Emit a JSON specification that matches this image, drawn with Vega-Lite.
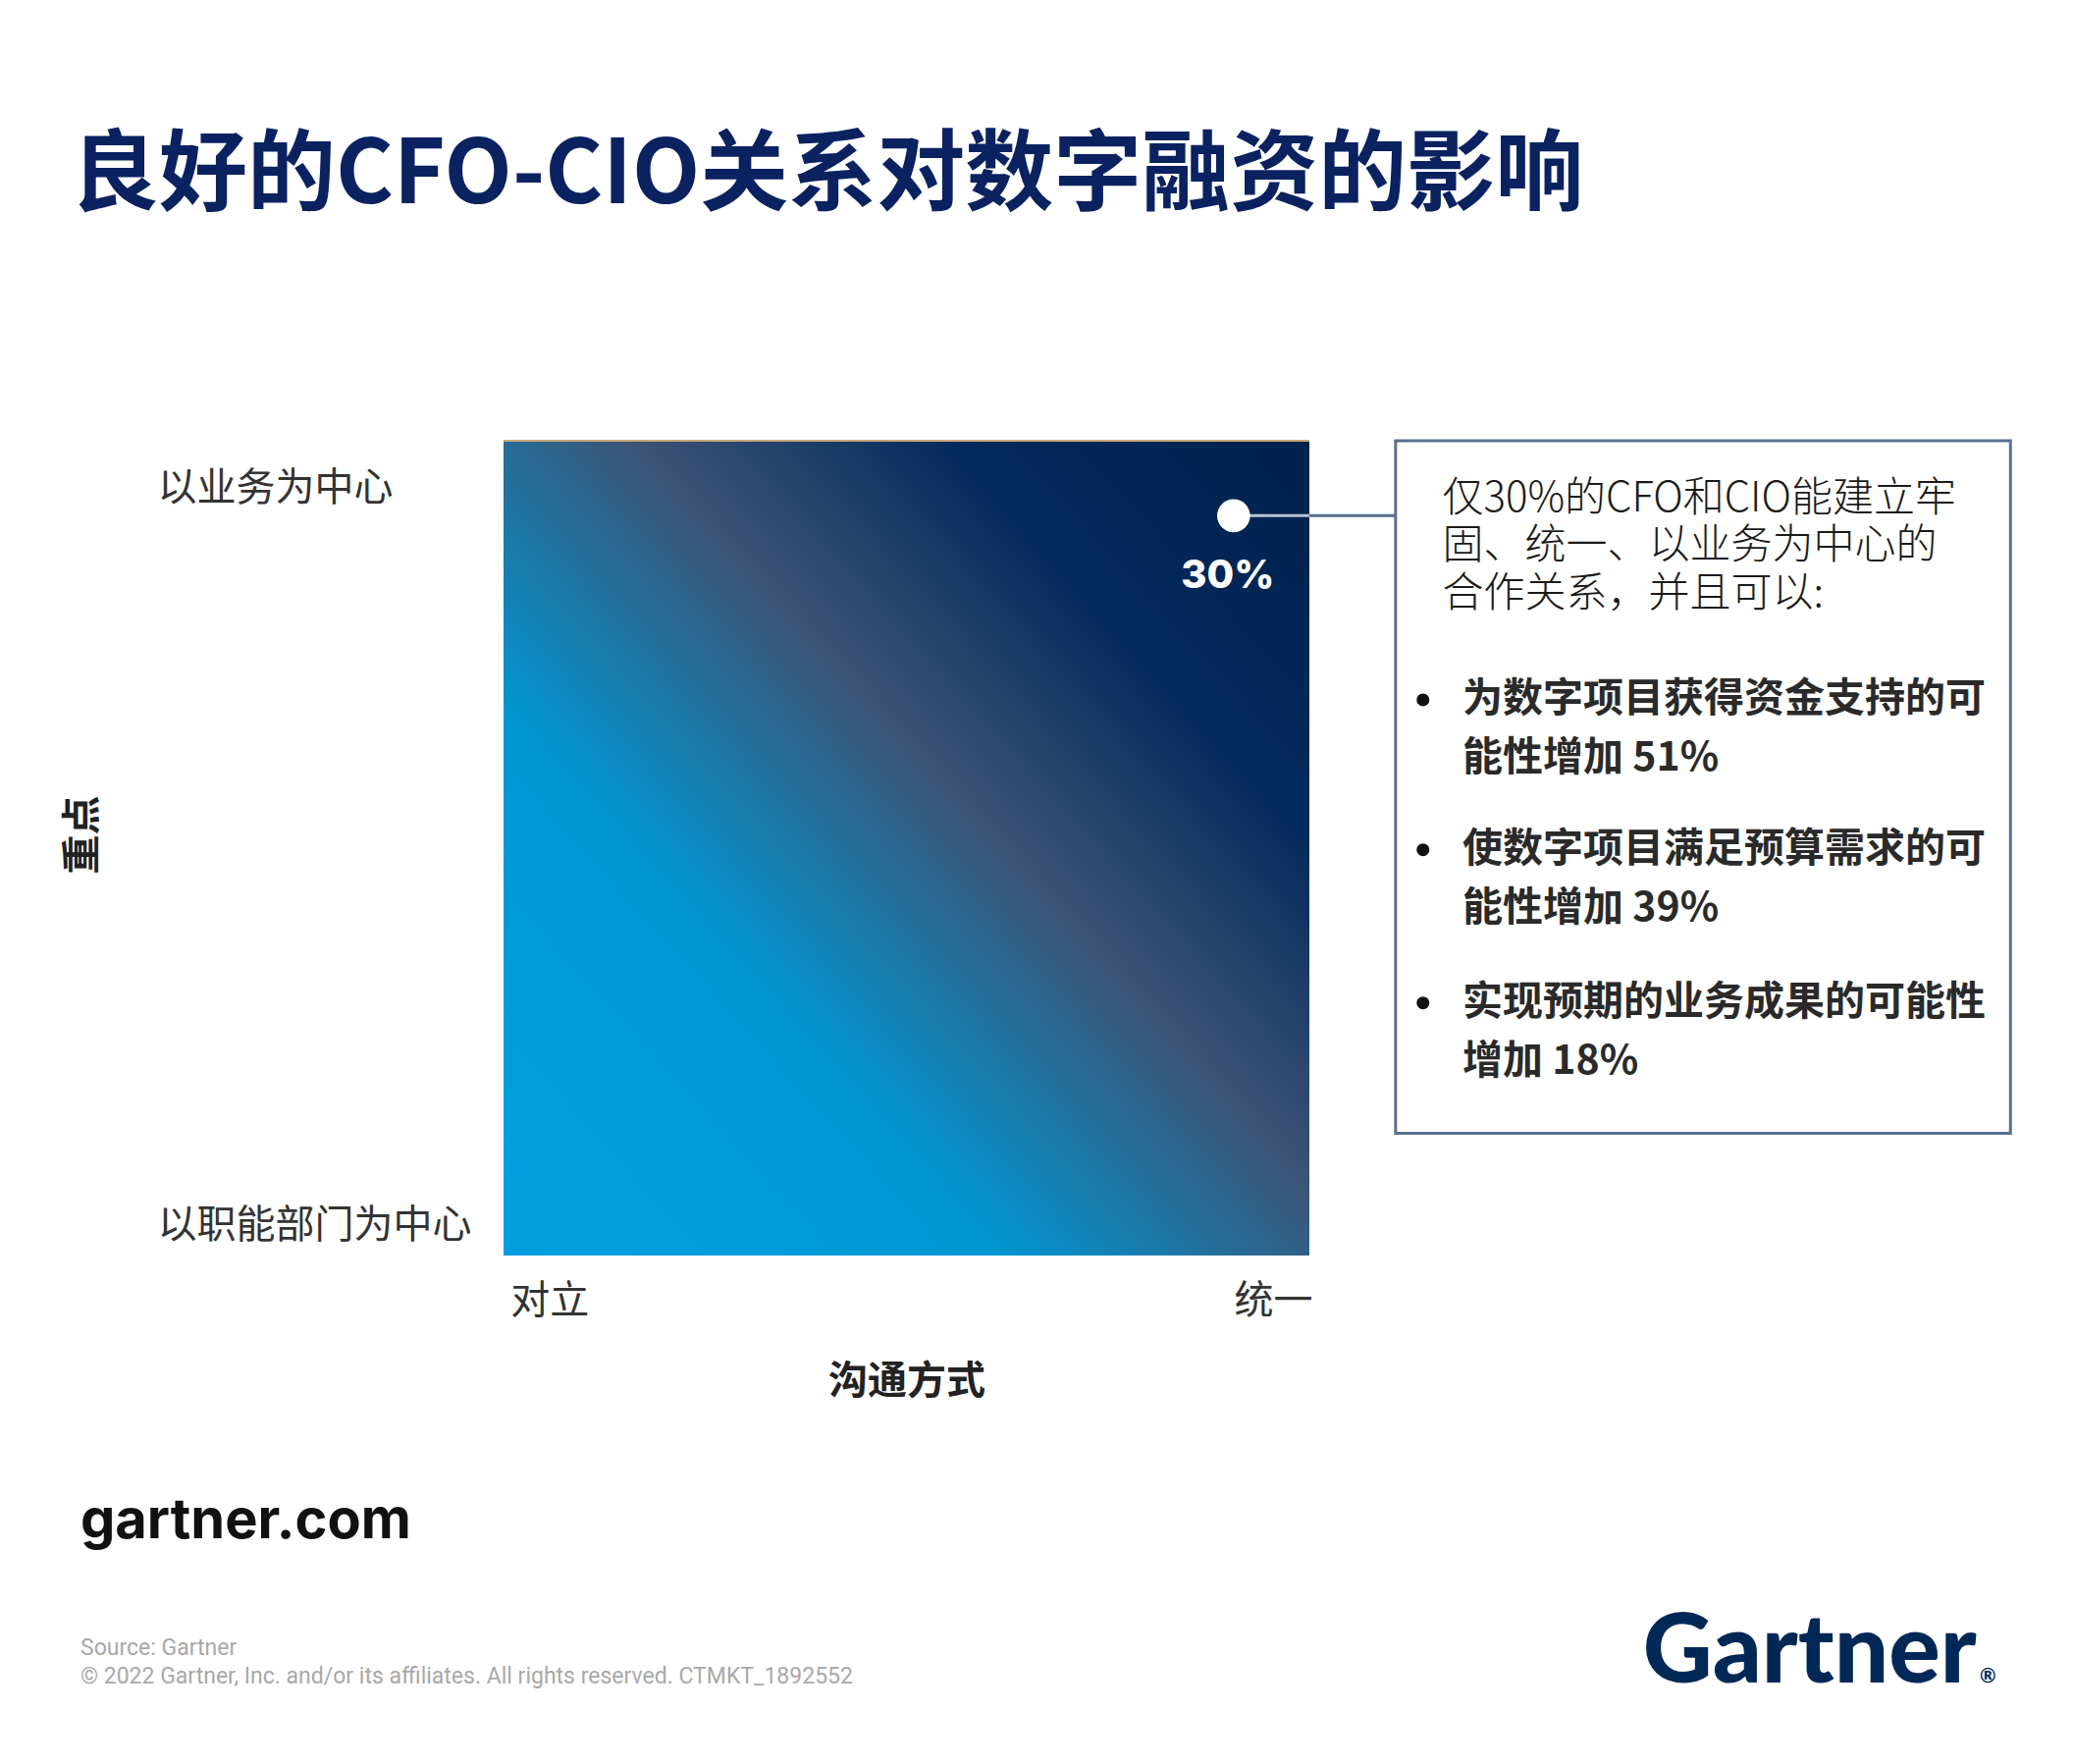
{
  "$schema": "https://vega.github.io/schema/vega-lite/v6.json",
  "width": 821,
  "height": 830,
  "autosize": {"type": "none"},
  "padding": {"left": 513, "top": 449, "right": 778, "bottom": 518},
  "background": "white",
  "config": {"view": {"stroke": null}, "font": "Noto Sans CJK SC"},
  "title": {
    "text": "良好的CFO-CIO关系对数字融资的影响",
    "anchor": "start",
    "frame": "group",
    "dx": -441,
    "offset": 222,
    "fontSize": 90,
    "fontWeight": "bold",
    "color": "#0b2261",
    "font": "Noto Sans CJK SC"
  },
  "datasets": {
    "square": [{"x": 0, "x2": 1, "y": 0, "y2": 1}],
    "point": [{"x": 0.906, "y": 0.908, "share": "30%"}],
    "box": [{"x": 1.107, "x2": 1.870, "y": 0.150, "y2": 1}],
    "intro": [
      {"x": 1.165, "y": 0.929, "text": "仅30%的CFO和CIO能建立牢\n固、统一、以业务为中心的\n合作关系，并且可以:"}
    ],
    "bullets": [
      {"x": 1.141, "y": 0.682},
      {"x": 1.141, "y": 0.498},
      {"x": 1.141, "y": 0.310}
    ],
    "bullettext": [
      {"x": 1.190, "y": 0.682, "text": "为数字项目获得资金支持的可\n能性增加 51%"},
      {"x": 1.190, "y": 0.498, "text": "使数字项目满足预算需求的可\n能性增加 39%"},
      {"x": 1.190, "y": 0.310, "text": "实现预期的业务成果的可能性\n增加 18%"}
    ],
    "site": [{"x": -0.525, "y": -0.326, "text": "gartner.com"}],
    "source": [
      {"x": -0.525, "y": -0.482, "text": "Source: Gartner"},
      {"x": -0.525, "y": -0.517, "text": "© 2022 Gartner, Inc. and/or its affiliates. All rights reserved. CTMKT_1892552"}
    ],
    "logo": [{"x": 1.828, "y": -0.489, "text": "Gartner"}],
    "reg": [{"x": 1.832, "y": -0.517, "text": "®"}]
  },
  "layer": [
    {
      "data": {"name": "square"},
      "mark": {
        "type": "rect",
        "fill": {
          "gradient": "linear",
          "x1": 0, "y1": 1, "x2": 1, "y2": 0.08,
          "stops": [
            {"offset": 0, "color": "#00a0e0"},
            {"offset": 0.33, "color": "#0097d3"},
            {"offset": 0.585, "color": "#3c5475"},
            {"offset": 0.8, "color": "#022a5c"},
            {"offset": 1, "color": "#00224f"}
          ]
        }
      },
      "encoding": {
        "x": {
          "field": "x", "type": "quantitative",
          "scale": {"domain": [0, 1], "nice": false, "zero": false},
          "axis": {
            "values": [0.057, 0.955],
            "labelExpr": "datum.value < 0.5 ? '对立' : '统一'",
            "domain": false, "ticks": false, "tickSize": 0, "grid": false,
            "labelFlush": false, "labelOverlap": false, "labelLimit": 0,
            "labelFontSize": 40, "labelColor": "#333333", "labelFont": "Noto Sans CJK SC",
            "labelPadding": 46, "labelBaseline": "middle",
            "title": "沟通方式", "titleFontSize": 40, "titleFontWeight": "bold",
            "titleColor": "#222222", "titleFont": "Noto Sans CJK SC",
            "titleBaseline": "middle", "titleY": 128
          }
        },
        "x2": {"field": "x2"},
        "y": {
          "field": "y", "type": "quantitative",
          "scale": {"domain": [0, 1], "nice": false, "zero": false},
          "axis": {
            "values": [0.037, 0.941],
            "labelExpr": "datum.value < 0.5 ? '以职能部门为中心' : '以业务为中心'",
            "domain": false, "ticks": false, "tickSize": 0, "grid": false,
            "labelFlush": false, "labelOverlap": false, "labelLimit": 0,
            "labelFontSize": 40, "labelColor": "#333333", "labelFont": "Noto Sans CJK SC",
            "labelAlign": "left", "labelPadding": 353, "labelBaseline": "middle",
            "title": "重点", "titleFontSize": 40, "titleFontWeight": "bold",
            "titleColor": "#222222", "titleFont": "Noto Sans CJK SC",
            "titleAngle": -90, "titleAlign": "center", "titleBaseline": "middle",
            "titleX": -429, "titleY": 401
          }
        },
        "y2": {"field": "y2"}
      }
    },
    {
      "data": {"name": "square"},
      "mark": {"type": "rule", "color": "#c8a878", "strokeWidth": 2},
      "encoding": {
        "x": {"field": "x", "type": "quantitative"},
        "x2": {"field": "x2"},
        "y": {"field": "y2", "type": "quantitative"}
      }
    },
    {
      "data": {"name": "point"},
      "mark": {"type": "rule", "color": "#b9c3d1", "strokeWidth": 3},
      "encoding": {
        "x": {"field": "x", "type": "quantitative"},
        "x2": {"datum": 1},
        "y": {"field": "y", "type": "quantitative"}
      }
    },
    {
      "data": {"name": "point"},
      "mark": {"type": "rule", "color": "#566d8f", "strokeWidth": 3},
      "encoding": {
        "x": {"datum": 1, "type": "quantitative"},
        "x2": {"datum": 1.107},
        "y": {"field": "y", "type": "quantitative"}
      }
    },
    {
      "data": {"name": "point"},
      "mark": {"type": "circle", "size": 1130, "color": "white", "opacity": 1},
      "encoding": {
        "x": {"field": "x", "type": "quantitative"},
        "y": {"field": "y", "type": "quantitative"}
      }
    },
    {
      "data": {"name": "point"},
      "mark": {"type": "text", "dy": 62, "dx": -6, "color": "white", "fontSize": 40, "fontWeight": 800, "font": "Inter", "align": "center", "baseline": "middle"},
      "encoding": {
        "x": {"field": "x", "type": "quantitative"},
        "y": {"field": "y", "type": "quantitative"},
        "text": {"field": "share"}
      }
    },
    {
      "data": {"name": "box"},
      "mark": {"type": "rect", "fill": "white", "stroke": "#5a6f90", "strokeWidth": 3},
      "encoding": {
        "x": {"field": "x", "type": "quantitative"},
        "x2": {"field": "x2"},
        "y": {"field": "y", "type": "quantitative"},
        "y2": {"field": "y2"}
      }
    },
    {
      "data": {"name": "intro"},
      "mark": {"type": "text", "align": "left", "baseline": "middle", "lineBreak": "\n", "lineHeight": 48.5, "fontSize": 42, "font": "Noto Sans CJK SC", "fontWeight": 300, "color": "#1a1a1a"},
      "encoding": {
        "x": {"field": "x", "type": "quantitative"},
        "y": {"field": "y", "type": "quantitative"},
        "text": {"field": "text"}
      }
    },
    {
      "data": {"name": "bullets"},
      "mark": {"type": "circle", "size": 170, "color": "#111111", "opacity": 1},
      "encoding": {
        "x": {"field": "x", "type": "quantitative"},
        "y": {"field": "y", "type": "quantitative"}
      }
    },
    {
      "data": {"name": "bullettext"},
      "mark": {"type": "text", "align": "left", "baseline": "middle", "lineBreak": "\n", "lineHeight": 60, "fontSize": 41, "font": "Noto Sans CJK SC", "fontWeight": "bold", "color": "#2a2a2a"},
      "encoding": {
        "x": {"field": "x", "type": "quantitative"},
        "y": {"field": "y", "type": "quantitative"},
        "text": {"field": "text"}
      }
    },
    {
      "data": {"name": "site"},
      "mark": {"type": "text", "align": "left", "baseline": "middle", "fontSize": 56, "font": "Inter", "fontWeight": "bold", "color": "#111111"},
      "encoding": {
        "x": {"field": "x", "type": "quantitative"},
        "y": {"field": "y", "type": "quantitative"},
        "text": {"field": "text"}
      }
    },
    {
      "data": {"name": "source"},
      "mark": {"type": "text", "align": "left", "baseline": "middle", "fontSize": 23, "font": "Roboto", "color": "#a8a8a8"},
      "encoding": {
        "x": {"field": "x", "type": "quantitative"},
        "y": {"field": "y", "type": "quantitative"},
        "text": {"field": "text"}
      }
    },
    {
      "data": {"name": "logo"},
      "mark": {"type": "text", "align": "right", "baseline": "middle", "fontSize": 98, "font": "Lato", "fontWeight": 900, "color": "#002856"},
      "encoding": {
        "x": {"field": "x", "type": "quantitative"},
        "y": {"field": "y", "type": "quantitative"},
        "text": {"field": "text"}
      }
    },
    {
      "data": {"name": "reg"},
      "mark": {"type": "text", "align": "left", "baseline": "middle", "fontSize": 20, "font": "Lato", "fontWeight": "bold", "color": "#002856"},
      "encoding": {
        "x": {"field": "x", "type": "quantitative"},
        "y": {"field": "y", "type": "quantitative"},
        "text": {"field": "text"}
      }
    }
  ]
}
